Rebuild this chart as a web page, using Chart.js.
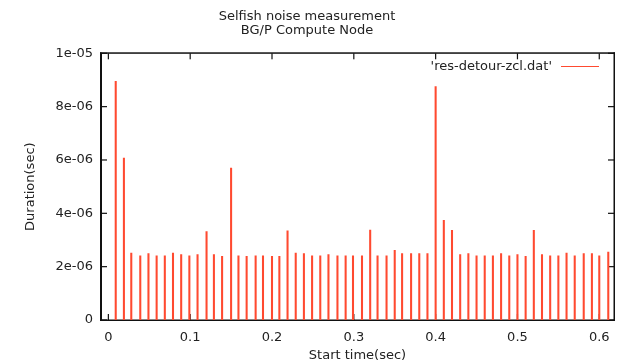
<!DOCTYPE html>
<html>
<head>
<meta charset="utf-8">
<script src="https://cdn.jsdelivr.net/npm/chart.js@4"></script>
<style>
  body { margin: 0; background: #fff; }
  canvas { display: block; }
</style>
</head>
<body>
<canvas id="myChart" width="624" height="364"></canvas>
<script>
  // start times (sec) and detour durations (sec)
  const startTimes = [0.009, 0.019, 0.028, 0.039, 0.049, 0.059, 0.069, 0.079, 0.089, 0.099,
    0.109, 0.120, 0.129, 0.139, 0.150, 0.159, 0.169, 0.180, 0.189, 0.200,
    0.209, 0.219, 0.229, 0.239, 0.249, 0.259, 0.269, 0.280, 0.290, 0.299,
    0.310, 0.320, 0.329, 0.340, 0.350, 0.359, 0.370, 0.380, 0.390, 0.400,
    0.410, 0.420, 0.430, 0.440, 0.450, 0.460, 0.470, 0.480, 0.490, 0.500,
    0.510, 0.520, 0.530, 0.540, 0.550, 0.560, 0.570, 0.581, 0.591, 0.600, 0.611];
  const durations = [8.95e-6, 6.07e-6, 2.51e-6, 2.41e-6, 2.49e-6, 2.41e-6, 2.41e-6, 2.51e-6, 2.45e-6, 2.41e-6,
    2.45e-6, 3.32e-6, 2.45e-6, 2.39e-6, 5.70e-6, 2.41e-6, 2.39e-6, 2.41e-6, 2.41e-6, 2.39e-6,
    2.39e-6, 3.34e-6, 2.51e-6, 2.49e-6, 2.41e-6, 2.41e-6, 2.45e-6, 2.41e-6, 2.41e-6, 2.41e-6,
    2.41e-6, 3.37e-6, 2.41e-6, 2.41e-6, 2.61e-6, 2.49e-6, 2.49e-6, 2.49e-6, 2.49e-6, 8.75e-6,
    3.74e-6, 3.36e-6, 2.45e-6, 2.49e-6, 2.41e-6, 2.41e-6, 2.41e-6, 2.49e-6, 2.41e-6, 2.45e-6,
    2.39e-6, 3.36e-6, 2.45e-6, 2.41e-6, 2.41e-6, 2.51e-6, 2.41e-6, 2.49e-6, 2.49e-6, 2.41e-6, 2.55e-6];

  const xTicks = [0, 0.1, 0.2, 0.3, 0.4, 0.5, 0.6];
  const xTickLabels = ['0', '0.1', '0.2', '0.3', '0.4', '0.5', '0.6'];
  const yTicks = [0, 2e-6, 4e-6, 6e-6, 8e-6, 1e-5];
  const yTickLabels = ['0', '2e-06', '4e-06', '6e-06', '8e-06', '1e-05'];

  const seriesName = "'res-detour-zcl.dat'";
  const lineColor = '#ff4a30';
  const textColor = '#222';
  const frameColor = '#111';
  const font = { family: 'DejaVu Sans', size: 13, weight: 'normal', lineHeight: 1.1 };

  // gnuplot style frame with inward ticks, drawn before the impulses
  const gnuplotFrame = {
    id: 'gnuplotFrame',
    beforeDatasetsDraw(chart) {
      const c = chart.ctx;
      const a = chart.chartArea;
      const xs = chart.scales.x, ys = chart.scales.y;
      const L = a.left, R = a.right, T = a.top, B = a.bottom;
      const tick = 6;
      c.save();
      c.fillStyle = frameColor;
      c.fillRect(L - 1, T - 1, R - L + 2, 1.5);
      c.fillRect(L - 1, B - 0.5, R - L + 2, 1.5);
      c.fillRect(L - 1, T - 1, 1.5, B - T + 1.5);
      c.fillRect(R - 0.5, T - 1, 1.5, B - T + 1.5);
      xTicks.forEach(v => {
        const px = xs.getPixelForValue(v);
        c.fillRect(px - 0.6, B - tick, 1.2, tick);
        c.fillRect(px - 0.6, T, 1.2, tick);
      });
      yTicks.forEach(v => {
        const py = ys.getPixelForValue(v);
        c.fillRect(L, py - 0.6, tick, 1.2);
        c.fillRect(R - tick, py - 0.6, tick, 1.2);
      });
      c.restore();
    },
    afterDraw(chart) {
      // key in the top right corner
      const c = chart.ctx;
      const a = chart.chartArea;
      const ky = Math.round(a.top + 12.5) + 0.5;
      c.save();
      c.fillStyle = textColor;
      c.font = '13px "DejaVu Sans"';
      c.textAlign = 'right';
      c.textBaseline = 'middle';
      c.fillText(seriesName, a.right - 62, ky);
      c.strokeStyle = lineColor;
      c.lineWidth = 1;
      c.beginPath();
      c.moveTo(a.right - 53, ky); c.lineTo(a.right - 15, ky);
      c.stroke();
      c.restore();
    }
  };

  new Chart(document.getElementById('myChart'), {
    type: 'bar',
    data: {
      datasets: [{
        label: seriesName,
        data: startTimes.map((t, i) => ({ x: t, y: durations[i] })),
        backgroundColor: lineColor,
        barThickness: 1.4
      }]
    },
    options: {
      responsive: false,
      animation: false,
      layout: { padding: { left: 0, right: 10, top: 0, bottom: 0 } },
      plugins: {
        legend: { display: false },
        tooltip: { enabled: false },
        title: {
          display: true,
          text: ['Selfish noise measurement', 'BG/P Compute Node'],
          color: textColor,
          font: font,
          padding: { top: 9, bottom: 15.7 }
        }
      },
      scales: {
        x: {
          type: 'linear',
          offset: false,
          min: -0.009,
          max: 0.618,
          grid: { display: false, drawTicks: false },
          border: { display: true, color: frameColor, width: 1 },
          afterBuildTicks: s => { s.ticks = xTicks.map(v => ({ value: v })); },
          afterFit: s => { s.height = 44; },
          ticks: {
            padding: 10,
            color: textColor,
            font: font,
            maxRotation: 0,
            callback: (v, i) => xTickLabels[i]
          },
          title: {
            display: true,
            text: 'Start time(sec)',
            color: textColor,
            font: font,
            padding: { top: 0, bottom: 1.5 }
          }
        },
        y: {
          min: 0,
          max: 1e-5,
          grid: { display: false, drawTicks: false },
          border: { display: true, color: frameColor, width: 1 },
          afterBuildTicks: s => { s.ticks = yTicks.map(v => ({ value: v })); },
          afterFit: s => { s.width = 101; },
          ticks: {
            padding: 8,
            color: textColor,
            font: font,
            callback: (v, i) => yTickLabels[i]
          },
          title: {
            display: true,
            text: 'Duration(sec)',
            color: textColor,
            font: font,
            padding: { top: 23.4, bottom: 0 }
          }
        }
      }
    },
    plugins: [gnuplotFrame]
  });
</script>
</body>
</html>
